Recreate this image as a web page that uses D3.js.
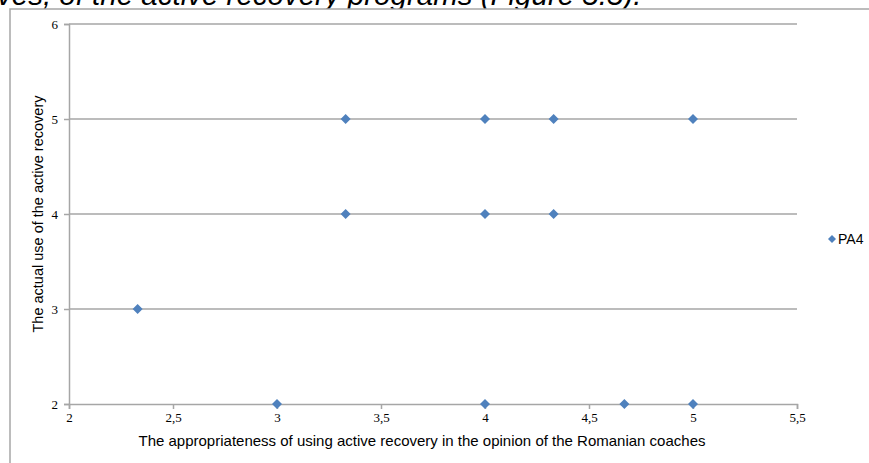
<!DOCTYPE html>
<html><head><meta charset="utf-8">
<script src="https://cdn.jsdelivr.net/npm/d3@7"></script>
<style>body{margin:0;background:#fff;}svg{display:block;}</style>
</head><body>
<script>
const seriesName = "PA4";
const xValues = [3.33, 4, 4.33, 5, 3.33, 4, 4.33, 2.33, 3, 4, 4.67, 5];
const yValues = [5, 5, 5, 5, 4, 4, 4, 3, 2, 2, 2, 2];
const xTicks = [2, 2.5, 3, 3.5, 4, 4.5, 5, 5.5];
const yTicks = [2, 3, 4, 5, 6];
const xTitle = "The appropriateness of using active recovery in the opinion of the Romanian coaches";
const yTitle = "The actual use of the active recovery";
const captionText = "ves, of the active recovery programs (Figure 5.5).";

const W = 869, H = 463;
const svg = d3.select("body").append("svg").attr("width", W).attr("height", H);

// caption (cut off at top, as in the source page)
svg.append("text").attr("x", -3).attr("y", 5)
  .attr("font-family", "Liberation Sans, Arial, sans-serif").attr("font-style", "italic")
  .attr("font-size", 29.5).attr("fill", "#000").text(captionText);

// outer chart frame
svg.append("rect").attr("x", 10).attr("y", 9).attr("width", 880).attr("height", 480)
  .attr("fill", "#fff").attr("stroke", "#a6a6a6").attr("stroke-width", 1.5);

const x = d3.scaleLinear().domain([2, 5.5]).range([69, 797]);
const y = d3.scaleLinear().domain([2, 6]).range([404, 24]);
const fmt = d => String(d).replace(".", ",");

// gridlines
svg.append("g").selectAll("line").data(yTicks.filter(d => d > 2)).join("line")
  .attr("x1", x(2)).attr("x2", x(5.5)).attr("y1", d => y(d)).attr("y2", d => y(d))
  .attr("stroke", "#a6a6a6").attr("stroke-width", 1.5);

// y axis
const yAxis = svg.append("g").attr("transform", `translate(${x(2)},0)`)
  .call(d3.axisLeft(y).tickValues(yTicks).tickFormat(fmt).tickSize(5).tickPadding(6));
// x axis
const xAxis = svg.append("g").attr("transform", `translate(0,${y(2)})`)
  .call(d3.axisBottom(x).tickValues(xTicks).tickFormat(fmt).tickSize(5).tickPadding(4));
[yAxis, xAxis].forEach(a => {
  a.select(".domain").attr("stroke", "#a6a6a6").attr("stroke-width", 1.5);
  a.selectAll(".tick line").attr("stroke", "#a6a6a6").attr("stroke-width", 1.5);
  a.selectAll(".tick text").attr("font-family", "Liberation Serif, Times New Roman, serif")
    .attr("font-size", 13).attr("fill", "#000");
});

// axis titles
svg.append("text").attr("x", 422).attr("y", 446).attr("text-anchor", "middle")
  .attr("font-family", "Liberation Sans, Arial, sans-serif").attr("font-size", 15).text(xTitle);
svg.append("text").attr("transform", `translate(43,${y(4)}) rotate(-90)`).attr("text-anchor", "middle")
  .attr("font-family", "Liberation Sans, Arial, sans-serif").attr("font-size", 14.5).text(yTitle);

// points
const pts = xValues.map((v, i) => ({x: v, y: yValues[i]}));
svg.append("g").selectAll("path").data(pts).join("path")
  .attr("transform", d => `translate(${x(d.x)},${y(d.y)}) rotate(45)`)
  .attr("d", d3.symbol().type(d3.symbolSquare).size(50)())
  .attr("fill", "#4f81bd");

// legend
svg.append("path").attr("transform", "translate(832,239) rotate(45)")
  .attr("d", d3.symbol().type(d3.symbolSquare).size(32)()).attr("fill", "#4f81bd");
svg.append("text").attr("x", 838).attr("y", 244)
  .attr("font-family", "Liberation Sans, Arial, sans-serif").attr("font-size", 14).text(seriesName);
</script>
</body></html>
